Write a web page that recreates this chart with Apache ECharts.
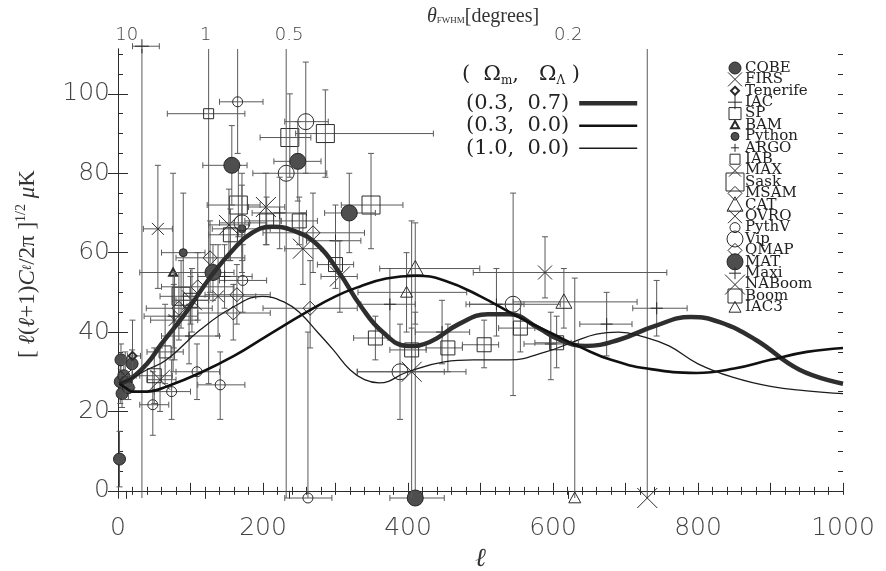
<!DOCTYPE html>
<html><head><meta charset="utf-8">
<script src="https://cdn.jsdelivr.net/npm/echarts@6/dist/echarts.min.js"></script>
<style>html,body{margin:0;background:#fff}#c{width:886px;height:571px}</style>
</head><body><div id="c"></div>
<script>
// Band powers per experiment. Each row: [ℓ, ℓ low, ℓ high, δT, δT low, δT high] (δT in μK)
const COBE = [
  [2.1, 2, 2.3, 8, 1, 15], [3.1, 3, 3.3, 27.5, 22, 33], [4.1, 4, 4.3, 33, 29, 37],
  [5.6, 5, 6.3, 24.5, 21, 28], [8.0, 7, 9, 29, 26, 32], [10.9, 10, 12, 27.5, 25, 30],
  [14.3, 13, 16, 26, 23, 29], [19.4, 17, 22, 32, 28.5, 35.5]
];
const FIRS = [[10, 3, 30, 29, 23, 35]];
const Tenerife = [[20, 13, 31, 34, 26, 43]];
const IAC = [[33, 20, 57, 112, -1.8, 150]];
const SP = [[65, 40, 90, 35, 27, 47]];
const BAM = [[76, 30, 125, 55, 30, 80]];
const Python = [[90, 60, 120, 60, 49, 75], [171, 130, 210, 66, 55, 80]];
const ARGO = [[98, 60, 140, 39, 32, 47]];
const IAB = [[125, 68, 175, 95, 27, 135]];
const MAX = [[78, 45, 110, 43, 33, 55], [138, 90, 190, 49, 39, 62], [55, 35, 75, 66, 51, 82]];
const Sask = [
  [87, 58, 126, 49, 41, 58], [166, 123, 196, 72, 64, 82], [237, 196, 266, 89, 79, 100],
  [286, 245, 435, 90, 79, 101], [349, 308, 393, 72, 61, 85]
];
const MSAM = [[84, 39, 130, 46, 38, 55], [265, 200, 330, 46, 36, 58], [269, 200, 340, 65, 55, 75]];
const CAT = [[410, 361, 499, 56, 42, 67.5], [615, 545, 716, 47.6, 41, 56]];
const OVRO = [[589, 490, 757, 55, 48.6, 64]];
const PythV = [
  [48, 30, 70, 21.7, 14, 30], [74, 50, 100, 25, 18, 33], [109, 80, 140, 30, 23, 37],
  [141, 110, 175, 26.7, 18, 35], [172, 140, 205, 53, 45, 62], [165, 140, 200, 98, 85, 112],
  [262, 230, 295, -1.8, -1.8, 40]
];
const Vip = [
  [171, 140, 205, 67.5, 58, 77], [232, 186, 288, 80, -1.8, 120], [259, 230, 290, 93, 80, 108],
  [389, 330, 450, 30, 18, 42], [545, 480, 610, 47, 24, 75]
];
const QMAP = [[110, 60, 160, 51.4, 43, 60], [127, 80, 175, 58.7, 50, 68], [159, 110, 210, 44.8, 38, 52], [164, 120, 210, 49.4, 42, 57]];
const MAT = [[131, 100, 160, 55, 48, 62], [157, 117, 178, 82, 72, 92], [248, 215, 280, 83, 73, 93], [319, 285, 355, 70, 60, 80], [410, 375, 450, -1.8, -1.8, 45]];
const Maxi = [
  [77, 36, 110, 44, 36, 52], [147, 110, 185, 54, 46, 62], [223, 185, 260, 70, 61, 79],
  [300, 260, 335, 63, 54, 72], [375, 335, 410, 47, 38, 56], [447, 410, 485, 40, 32, 48],
  [522, 485, 560, 47, 39, 56], [597, 560, 635, 37, 28, 45], [674, 637, 709, 42, 34, 50],
  [743, 710, 785, 46, 39, 53]
];
const NABoom = [
  [58, 40, 80, 28, 20, 36], [102, 80, 125, 48, 40, 56], [153, 125, 180, 67, 58, 76],
  [204, 180, 230, 71.5, 62, 80], [255, 230, 280, 61, 52, 70], [306, 280, 330, 54, 45, 63],
  [405, 330, 480, 30, -1.8, 68], [730, 730, 730, -1.8, -1.8, 112]
];
const Boom = [
  [50, 25, 75, 29, 22, 36], [100, 75, 125, 48, 42, 54], [155, 125, 175, 64.5, 58, 71],
  [205, 175, 225, 68, 62, 74], [250, 225, 275, 68, 62, 74], [300, 275, 325, 57, 51, 63],
  [355, 325, 375, 38.5, 33, 44], [405, 375, 425, 35.5, 30, 41], [455, 425, 475, 36, 30, 42],
  [505, 475, 525, 36.8, 31, 43], [555, 525, 575, 41, 35, 47], [605, 575, 625, 37.3, 31, 44]
];
const IAC3 = [[398, 331, 481, 50, 40, 60], [630, 630, 630, -1.8, -1.8, 53.6]];

// Model spectra, [ℓ, δT]
const modelLambda = [ // (Ωm, ΩΛ) = (0.3, 0.7)
  [2, 27], [10, 27.5], [20, 28.5], [40, 32], [60, 37], [90, 44], [130, 54.5], [160, 61],
  [185, 65], [212, 66.5], [240, 65.7], [275, 62], [305, 55], [335, 46.5], [365, 40],
  [400, 36.5], [430, 37.5], [470, 42], [510, 44.5], [540, 44.5], [580, 41], [610, 38],
  [645, 36.5], [690, 38], [740, 41.5], [790, 43.8], [830, 42.5], [880, 38], [940, 30.5], [1000, 27]
];
const modelOpen = [ // (0.3, 0.0)
  [2, 27], [10, 26], [20, 25], [40, 25], [70, 26.5], [113, 29.7], [160, 34], [205, 39],
  [260, 45], [300, 49], [334, 51.5], [370, 53.5], [410, 54.2], [450, 53], [500, 49],
  [550, 44], [600, 39.5], [640, 36], [680, 33], [730, 30.8], [798, 29.7], [850, 30.8],
  [900, 33], [950, 35], [1000, 36]
];
const modelFlat = [ // (1.0, 0.0)
  [2, 27], [20, 28.5], [40, 30.5], [67, 33], [113, 40.5], [159, 46.3], [199, 49], [230, 47.5],
  [251, 44.8], [275, 40], [297, 35.5], [320, 30.5], [340, 28], [360, 27.2], [400, 30],
  [450, 32.5], [490, 33], [540, 33], [590, 35], [628, 37.5], [660, 39.5], [690, 40],
  [725, 38.8], [760, 36.5], [800, 32], [850, 28.5], [900, 26.3], [950, 25.2], [1000, 24.5]
];

// Axis ticks
const yLabels = [0, 20, 40, 60, 80, 100];
const yMinor = [0, 5, 10, 15, 20, 25, 30, 35, 40, 45, 50, 55, 60, 65, 70, 75, 80, 85, 90, 95, 100, 105, 110];
const thetaLabels = ['10', '1', '0.5', '0.2'];
const thetaEll = [12, 121, 236, 621];

const Y_MIN = -1.8, Y_MAX = 111.3;
const INK = '#2b2b2b', BAR = '#5a5a5a';

// marker style per experiment: [name, rows, shape, half-size, line width]
const experiments = [
  ['COBE', COBE, 'dot', 6, 1], ['FIRS', FIRS, 'x', 7, 1], ['Tenerife', Tenerife, 'diamond', 4, 2],
  ['IAC', IAC, 'plus', 7, 1], ['SP', SP, 'square', 6, 1], ['BAM', BAM, 'triangle', 4, 2],
  ['Python', Python, 'dot', 4, 1], ['ARGO', ARGO, 'plus', 4, 1], ['IAB', IAB, 'square', 5, 1],
  ['MAX', MAX, 'x', 6, 1], ['Sask', Sask, 'square', 9, 1], ['MSAM', MSAM, 'diamond', 7, 1],
  ['CAT', CAT, 'triangle', 8, 1], ['OVRO', OVRO, 'x', 7, 1], ['PythV', PythV, 'circle', 5, 1],
  ['Vip', Vip, 'circle', 8, 1], ['QMAP', QMAP, 'diamond', 7, 1], ['MAT', MAT, 'dot', 8, 1],
  ['Maxi', Maxi, 'plus', 6, 1], ['NABoom', NABoom, 'x', 10, 1], ['Boom', Boom, 'square', 7, 1],
  ['IAC3', IAC3, 'triangle', 6, 1]
];

function marker(kind, h, lw, cx, cy) {
  const st = { stroke: INK, lineWidth: lw, fill: 'none' };
  switch (kind) {
    case 'dot':
      return [{ type: 'circle', shape: { cx, cy, r: h }, style: { fill: '#4e4e4e', stroke: '#262626', lineWidth: 1 } }];
    case 'circle':
      return [{ type: 'circle', shape: { cx, cy, r: h }, style: st }];
    case 'square':
      return [{ type: 'rect', shape: { x: cx - h, y: cy - h, width: 2 * h, height: 2 * h }, style: st }];
    case 'diamond':
      return [{ type: 'polygon', shape: { points: [[cx, cy - h], [cx + h, cy], [cx, cy + h], [cx - h, cy]] }, style: st }];
    case 'triangle':
      return [{ type: 'polygon', shape: { points: [[cx, cy - h], [cx + h, cy + h * 0.8], [cx - h, cy + h * 0.8]] }, style: st }];
    case 'x':
      return [
        { type: 'line', shape: { x1: cx - h, y1: cy - h, x2: cx + h, y2: cy + h }, style: st },
        { type: 'line', shape: { x1: cx - h, y1: cy + h, x2: cx + h, y2: cy - h }, style: st }
      ];
    case 'plus':
      return [
        { type: 'line', shape: { x1: cx - h, y1: cy, x2: cx + h, y2: cy }, style: st },
        { type: 'line', shape: { x1: cx, y1: cy - h, x2: cx, y2: cy + h }, style: st }
      ];
  }
  return [];
}

function seg(x1, y1, x2, y2) {
  return { type: 'line', shape: { x1, y1, x2, y2 }, style: { stroke: BAR, lineWidth: 1 } };
}

function makeRender(kind, h, lw) {
  return function (params, api) {
    const l = api.value(0), l0 = api.value(1), l1 = api.value(2);
    const v = api.value(3), v0 = api.value(4), v1 = api.value(5);
    const c = api.coord([l, v]);
    const kids = [];
    const cap = 3;
    if (l1 > l0) {
      const a = api.coord([l0, v]), b = api.coord([l1, v]);
      kids.push(seg(a[0], a[1], b[0], b[1]));
      kids.push(seg(a[0], a[1] - cap, a[0], a[1] + cap));
      kids.push(seg(b[0], b[1] - cap, b[0], b[1] + cap));
    }
    if (v1 > v0) {
      const lo = Math.max(v0, Y_MIN), hi = Math.min(v1, Y_MAX);
      const a = api.coord([l, lo]), b = api.coord([l, hi]);
      kids.push(seg(a[0], a[1], b[0], b[1]));
      if (lo === v0 && v0 > Y_MIN) kids.push(seg(a[0] - cap, a[1], a[0] + cap, a[1]));
      if (hi === v1) kids.push(seg(b[0] - cap, b[1], b[0] + cap, b[1]));
    }
    kids.push(...marker(kind, h, lw, c[0], c[1]));
    return { type: 'group', children: kids };
  };
}

const series = experiments.map(([name, rows, kind, h, lw]) => ({
  name, type: 'custom', data: rows, clip: false, z: 2,
  encode: { x: [0, 1, 2], y: [3, 4, 5] },
  renderItem: makeRender(kind, h, lw)
}));

// model curves: [legend name, samples, colour, width]
const models = [
  ['(0.3,  0.7)', modelLambda, '#2e2e2e', 4.5],
  ['(0.3,  0.0)', modelOpen, '#111111', 2.6],
  ['(1.0,  0.0)', modelFlat, '#1c1c1c', 1.3]
];
models.forEach(([name, data, color, width]) => series.push({
  name, type: 'line', data, smooth: 0.45, symbol: 'none', z: 5,
  itemStyle: { color }, lineStyle: { color, width }
}));

// symbol key, stacked down the right side of the plot
const keyEls = [];
experiments.forEach(([name, , kind, h, lw], i) => {
  const y = 68 + i * 11.4;
  keyEls.push(...marker(kind, h, lw, 735, y));
  keyEls.push({ type: 'text', x: 745, y, style: { text: name, fill: '#222', font: '15px "DejaVu Serif"', verticalAlign: 'middle' } });
});

const numFont = { fontFamily: 'DejaVu Sans', fontWeight: 200, color: '#444' };
const serif = 'Liberation Serif';

const chart = echarts.init(document.getElementById('c'), null, { renderer: 'canvas' });
chart.setOption({
  backgroundColor: '#fff',
  animation: false,
  grid: { left: 118, right: 43, top: 49, bottom: 73, outerBoundsMode: 'none', containLabel: false },
  xAxis: [
    { type: 'value', min: 0, max: 1000, interval: 100, position: 'bottom',
      axisLine: { lineStyle: { color: INK } },
      axisTick: { inside: true, length: 8, lineStyle: { color: INK } },
      minorTick: { show: true, splitNumber: 5, length: 4, lineStyle: { color: INK } },
      splitLine: { show: false },
      axisLabel: { ...numFont, fontSize: 25, margin: 18, formatter: v => (v % 200 === 0 ? String(v) : '') },
      name: 'ℓ', nameLocation: 'middle', nameGap: 40,
      nameTextStyle: { fontFamily: 'DejaVu Serif', fontStyle: 'italic', fontSize: 26, color: '#333' } },
    { type: 'value', min: 0, max: 1000, interval: 20, position: 'top',
      axisLine: { lineStyle: { color: INK } },
      axisTick: { inside: true, length: 4, lineStyle: { color: INK } },
      axisLabel: { show: false }, splitLine: { show: false } },
    { type: 'value', min: 0, max: 1000, position: 'top',
      axisLine: { show: false },
      axisTick: { inside: true, length: 8, customValues: thetaEll, lineStyle: { color: INK } },
      axisLabel: { ...numFont, fontSize: 18, margin: 5, customValues: thetaEll,
        formatter: v => thetaLabels[thetaEll.indexOf(v)] || '' },
      splitLine: { show: false } }
  ],
  yAxis: [
    { type: 'value', min: Y_MIN, max: Y_MAX, position: 'left',
      axisLine: { show: true, lineStyle: { color: INK } },
      axisTick: { show: true, inside: true, length: 10, customValues: yLabels, lineStyle: { color: INK } },
      axisLabel: { ...numFont, fontSize: 25, margin: 8, customValues: yLabels },
      splitLine: { show: false } },
    { type: 'value', min: Y_MIN, max: Y_MAX, position: 'left',
      axisLine: { show: false },
      axisTick: { show: true, inside: true, length: 5, customValues: yMinor, lineStyle: { color: INK } },
      axisLabel: { show: false }, splitLine: { show: false } },
    { type: 'value', min: Y_MIN, max: Y_MAX, position: 'right',
      axisLine: { show: true, lineStyle: { color: INK } },
      axisTick: { show: true, inside: true, length: 10, customValues: yLabels, lineStyle: { color: INK } },
      axisLabel: { show: false }, splitLine: { show: false } },
    { type: 'value', min: Y_MIN, max: Y_MAX, position: 'right',
      axisLine: { show: false },
      axisTick: { show: true, inside: true, length: 5, customValues: yMinor, lineStyle: { color: INK } },
      axisLabel: { show: false }, splitLine: { show: false } }
  ],
  legend: {
    data: models.map(([name, , color, width]) => ({
      name, itemStyle: { opacity: 0 }, lineStyle: { color, width, opacity: 1 }
    })),
    orient: 'vertical', align: 'right', left: 461, top: 87,
    itemWidth: 58, itemHeight: 12, itemGap: 0,
    textStyle: { fontFamily: 'DejaVu Serif', fontSize: 21, lineHeight: 22.5, color: '#222', padding: [0, 5, 0, 0] },
    selectedMode: false
  },
  graphic: [
    { type: 'text', x: 483, y: 17, style: {
      text: '{t|θ}{s|FWHM}{d|[degrees]}', align: 'center', verticalAlign: 'middle',
      rich: {
        t: { fontFamily: serif, fontStyle: 'italic', fontSize: 20, fill: '#333' },
        s: { fontFamily: serif, fontSize: 9, fill: '#333', padding: [8, 0, 0, 0] },
        d: { fontFamily: serif, fontSize: 20, fill: '#333' } } } },
    { type: 'text', x: 462, y: 63, style: { text: '(  Ω{s|m},   Ω{s|Λ} )',
      font: '21px "DejaVu Serif"', fill: '#222',
      rich: { s: { fontSize: 12, fontFamily: 'DejaVu Serif', padding: [12, 0, 0, 0] } } } },
    { type: 'text', x: 28, y: 264, rotation: Math.PI / 2, style: {
      text: '{b|[ }{i|ℓ}{b|(}{i|ℓ}{b|+1)}{i|C}{sb|ℓ}{b|/2π ]}{sp|1/2}{b| }{i|μ}{b|K}',
      align: 'center', verticalAlign: 'middle',
      rich: {
        b: { fontFamily: serif, fontSize: 23, fill: '#333' },
        i: { fontFamily: serif, fontStyle: 'italic', fontSize: 23, fill: '#333' },
        sb: { fontFamily: serif, fontStyle: 'italic', fontSize: 13, fill: '#333' },
        sp: { fontFamily: serif, fontSize: 14, fill: '#333', padding: [0, 0, 14, 0] } } } },
    { type: 'group', children: keyEls }
  ],
  series
});
</script>
</body></html>
